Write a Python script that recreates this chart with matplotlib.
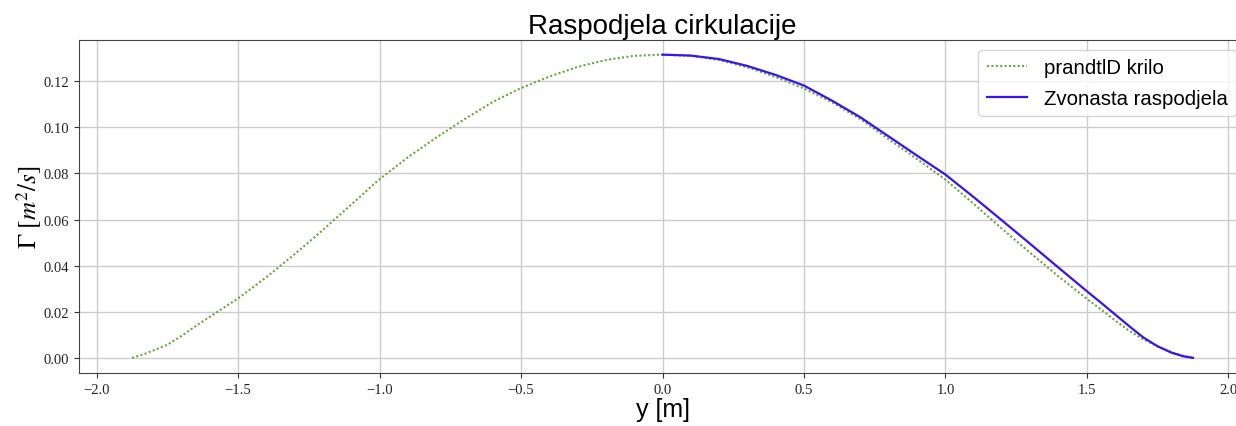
import matplotlib.pyplot as plt

# circulation distribution data
y_prandtl = [-1.875, -1.835, -1.80, -1.75, -1.70, -1.65, -1.60, -1.55, -1.50, -1.40,
             -1.30, -1.20, -1.10, -1.00, -0.90, -0.80, -0.70, -0.60, -0.50, -0.40,
             -0.30, -0.20, -0.10, 0.00, 0.10, 0.20, 0.30, 0.40, 0.50, 0.60,
             0.70, 0.80, 0.90, 1.00, 1.10, 1.20, 1.30, 1.40, 1.50, 1.55,
             1.60, 1.65, 1.70, 1.75, 1.80, 1.84, 1.875]
gamma_prandtl = [0.0000, 0.0015, 0.0032, 0.0057, 0.0095, 0.0138, 0.0178, 0.0218, 0.0258, 0.0350,
                 0.0450, 0.0555, 0.0665, 0.0775, 0.0870, 0.0955, 0.1035, 0.1110, 0.1170, 0.1220,
                 0.1262, 0.1292, 0.1310, 0.1315, 0.1310, 0.1292, 0.1260, 0.1218, 0.1168, 0.1108,
                 0.1035, 0.0948, 0.0862, 0.0773, 0.0668, 0.0560, 0.0455, 0.0353, 0.0256, 0.0210,
                 0.0162, 0.0117, 0.0080, 0.0050, 0.0025, 0.0009, 0.0000]

y_bell = [0.00, 0.10, 0.20, 0.30, 0.40, 0.50, 0.60, 0.70, 0.80, 0.90,
          1.00, 1.10, 1.20, 1.30, 1.40, 1.50, 1.55, 1.60, 1.65, 1.70,
          1.75, 1.80, 1.84, 1.875]
gamma_bell = [0.1315, 0.1311, 0.1296, 0.1266, 0.1227, 0.1181, 0.1115, 0.1043, 0.0960, 0.0877,
              0.0795, 0.0697, 0.0596, 0.0494, 0.0391, 0.0289, 0.0239, 0.0188, 0.0137, 0.0088,
              0.0050, 0.0022, 0.0007, 0.0000]

plt.rcParams['font.family'] = ['Liberation Sans', 'DejaVu Sans']
plt.rcParams['mathtext.fontset'] = 'stix'

fig = plt.figure(figsize=(12.36, 4.27), dpi=100)
ax = fig.add_axes([79 / 1236, 1 - 374 / 427, 1167 / 1236, (374 - 40.5) / 427])

ax.plot(y_prandtl, gamma_prandtl, linestyle=(0, (1, 1.1)), color='#66a83e', linewidth=1.5,
        label='prandtlD krilo')
ax.plot(y_bell, gamma_bell, linestyle='-', color='#3a12f0', linewidth=1.6, label='Zvonasta raspodjela')

ax.set_title('Raspodjela cirkulacije', fontsize=20, pad=5)
ax.set_xlabel('y [m]', fontsize=18, labelpad=1)
ax.set_ylabel(r'$\Gamma\ [m^2/s]$', fontsize=18, labelpad=0)

ax.set_xticks([-2.0, -1.5, -1.0, -0.5, 0.0, 0.5, 1.0, 1.5, 2.0])
ax.set_yticks([0.0, 0.02, 0.04, 0.06, 0.08, 0.10, 0.12])
ax.set_yticklabels(['0.00', '0.02', '0.04', '0.06', '0.08', '0.10', '0.12'])
for lab in ax.get_xticklabels() + ax.get_yticklabels():
    lab.set_family(['Liberation Serif', 'DejaVu Serif'])
    lab.set_fontsize(10.5)
ax.tick_params(colors='#333333', labelcolor='#222222')
for s in ax.spines.values():
    s.set_color('#444444')

ax.grid(True, color='#cccccc', linewidth=1.0)
ax.legend(loc='upper right', fontsize=14.7, labelspacing=0.6)

fig.savefig('out.png', dpi=100)
